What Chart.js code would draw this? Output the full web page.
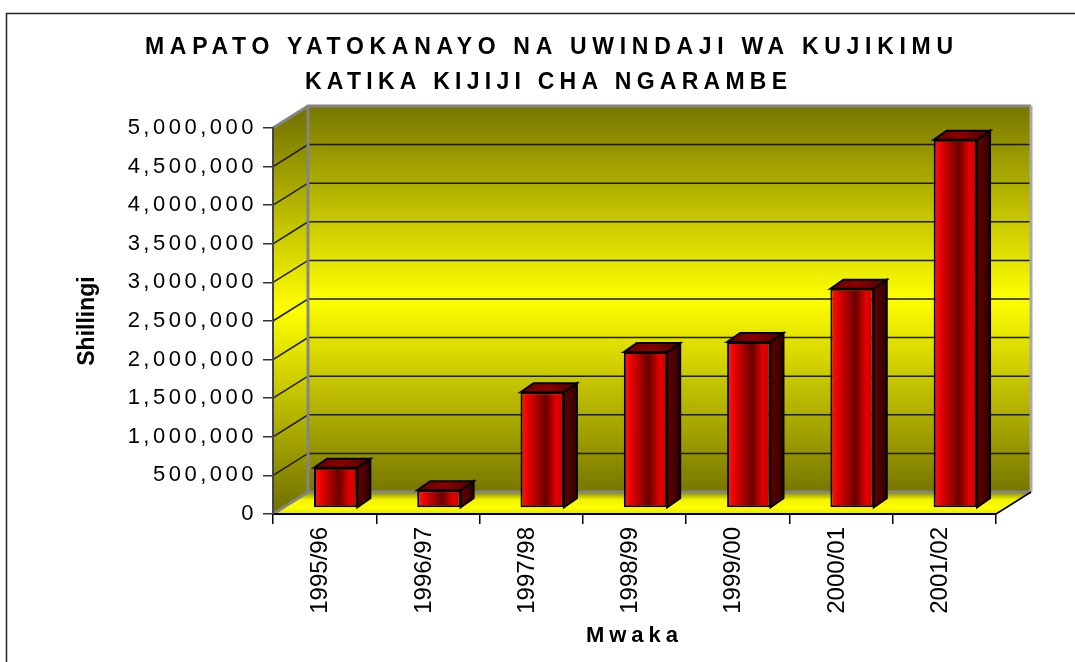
<!DOCTYPE html>
<html>
<head>
<meta charset="utf-8">
<title>Mapato</title>
<script src="https://cdn.jsdelivr.net/npm/chart.js@4.4.1/dist/chart.umd.min.js"></script>
<style>
  body { margin: 0; background: #fff; }
  canvas { display: block; }
</style>
</head>
<body>
<canvas id="mapatoChart" width="1075" height="662"></canvas>
<script>
const years = ["1995/96", "1996/97", "1997/98", "1998/99", "1999/00", "2000/01", "2001/02"];
const shillingi = [520000, 230000, 1500000, 2020000, 2150000, 2840000, 4770000];
const titleLines = ["MAPATO YATOKANAYO NA UWINDAJI WA KUJIKIMU", "KATIKA KIJIJI CHA NGARAMBE"];
const yMax = 5000000;
const yStep = 500000;

const FONT = '"Liberation Sans", Arial, Helvetica, sans-serif';

// depth of the walls, offset of the bars into the box, depth of the bars
const DX = 35, DY = -22;
const BOX = 11, BOY = -6;
const BDX = 13, BDY = -9;

// scales that draw their text letter-spaced like the old office chart
class SpacedLinear extends Chart.LinearScale {
  static id = "spacedLinear";
  drawLabels(area) {
    this.ctx.save();
    this.ctx.letterSpacing = "3.5px";
    super.drawLabels(area);
    this.ctx.restore();
  }
}
class SpacedCategory extends Chart.CategoryScale {
  static id = "spacedCategory";
  drawTitle() {
    this.ctx.save();
    this.ctx.letterSpacing = "5px";
    super.drawTitle();
    this.ctx.restore();
  }
}
Chart.register(SpacedLinear, SpacedCategory);

function wallGradient(ctx, top, bottom) {
  const g = ctx.createLinearGradient(0, top, 0, bottom);
  g.addColorStop(0, "#777600");
  g.addColorStop(0.5, "#ffff00");
  g.addColorStop(1, "#777600");
  return g;
}

const box3d = {
  id: "box3d",
  beforeDraw(chart) {
    const ctx = chart.ctx;
    const xs = chart.scales.x, ys = chart.scales.y;
    const L = xs.left, R = xs.right;
    const B = ys.getPixelForValue(0), T = ys.getPixelForValue(yMax);

    ctx.save();
    // frame
    ctx.strokeStyle = "#222";
    ctx.lineWidth = 1.5;
    ctx.beginPath();
    ctx.moveTo(6.5, 662);
    ctx.lineTo(6.5, 13.5);
    ctx.lineTo(1075, 13.5);
    ctx.stroke();

    // back wall
    ctx.fillStyle = wallGradient(ctx, T + DY, B + DY);
    ctx.fillRect(L + DX, T + DY, R - L, B - T);

    // side wall
    ctx.fillStyle = wallGradient(ctx, T + DY / 2, B + DY / 2);
    ctx.beginPath();
    ctx.moveTo(L, B);
    ctx.lineTo(L, T);
    ctx.lineTo(L + DX, T + DY);
    ctx.lineTo(L + DX, B + DY);
    ctx.closePath();
    ctx.fill();

    // floor
    const fg = ctx.createLinearGradient(0, B + DY, 0, B);
    fg.addColorStop(0, "#8a8a00");
    fg.addColorStop(0.35, "#f2f200");
    fg.addColorStop(0.7, "#ffff00");
    fg.addColorStop(1, "#e4e400");
    ctx.fillStyle = fg;
    ctx.beginPath();
    ctx.moveTo(L, B);
    ctx.lineTo(R, B);
    ctx.lineTo(R + DX, B + DY);
    ctx.lineTo(L + DX, B + DY);
    ctx.closePath();
    ctx.fill();

    // grid lines on the walls
    ctx.strokeStyle = "#1a1a00";
    ctx.lineWidth = 1.5;
    ys.ticks.forEach((t) => {
      if (t.value <= 0 || t.value >= yMax) return;
      const y = ys.getPixelForValue(t.value);
      ctx.beginPath();
      ctx.moveTo(L, y);
      ctx.lineTo(L + DX, y + DY);
      ctx.lineTo(R + DX, y + DY);
      ctx.stroke();
    });

    // wall edges
    ctx.strokeStyle = "#858585";
    ctx.lineWidth = 3;
    ctx.beginPath();
    ctx.moveTo(L, T);
    ctx.lineTo(L + DX, T + DY);
    ctx.lineTo(R + DX, T + DY);
    ctx.moveTo(L + DX, T + DY);
    ctx.lineTo(L + DX, B + DY);
    ctx.lineTo(R + DX, B + DY);
    ctx.moveTo(L, B);
    ctx.lineTo(L + DX, B + DY);
    ctx.stroke();
    ctx.strokeStyle = "#a8a8a8";
    ctx.beginPath();
    ctx.moveTo(R + DX, T + DY);
    ctx.lineTo(R + DX, B + DY);
    ctx.stroke();
    ctx.strokeStyle = "#000";
    ctx.lineWidth = 1.5;
    ctx.beginPath();
    ctx.moveTo(R, B);
    ctx.lineTo(R + DX, B + DY);
    ctx.stroke();
    ctx.restore();
  },
  beforeDatasetsDraw(chart) {
    chart.ctx.save();
    chart.ctx.translate(BOX, BOY);
  },
  afterDatasetsDraw(chart) {
    const ctx = chart.ctx;
    const meta = chart.getDatasetMeta(0);
    ctx.lineWidth = 2;
    ctx.strokeStyle = "#000";
    ctx.lineJoin = "miter";
    meta.data.forEach((bar) => {
      const { x, y, base, width } = bar.getProps(["x", "y", "base", "width"], true);
      const l = x - width / 2, r = x + width / 2;

      const sg = ctx.createLinearGradient(r, 0, r + BDX, 0);
      sg.addColorStop(0, "#640000");
      sg.addColorStop(0.5, "#4a0000");
      sg.addColorStop(1, "#2c0000");
      ctx.fillStyle = sg;
      ctx.beginPath();
      ctx.moveTo(r, y);
      ctx.lineTo(r + BDX, y + BDY);
      ctx.lineTo(r + BDX, base + BDY);
      ctx.lineTo(r, base);
      ctx.closePath();
      ctx.fill();
      ctx.stroke();

      const tg = ctx.createLinearGradient(l, 0, r + BDX, 0);
      tg.addColorStop(0, "#6a0000");
      tg.addColorStop(0.5, "#8c0000");
      tg.addColorStop(1, "#4a0000");
      ctx.fillStyle = tg;
      ctx.beginPath();
      ctx.moveTo(l, y);
      ctx.lineTo(l + BDX, y + BDY);
      ctx.lineTo(r + BDX, y + BDY);
      ctx.lineTo(r, y);
      ctx.closePath();
      ctx.fill();
      ctx.stroke();
    });
    ctx.restore();
  },
  afterDraw(chart) {
    const ctx = chart.ctx;
    const spots = [
      { left: 145, width: 808, y: 48 },
      { left: 305, width: 482, y: 83 },
    ];
    ctx.save();
    ctx.font = "bold 23px " + FONT;
    ctx.fillStyle = "#000";
    ctx.textAlign = "left";
    ctx.textBaseline = "middle";
    titleLines.forEach((line, i) => {
      ctx.letterSpacing = "0px";
      const w0 = ctx.measureText(line).width;
      const sp = (spots[i].width - w0) / (line.length - 1);
      ctx.letterSpacing = sp + "px";
      ctx.fillText(line, spots[i].left, spots[i].y);
    });
    ctx.restore();
  },
};

function barFace(c) {
  const xs = c.chart.scales.x;
  if (!xs || c.dataIndex === undefined) return "#d00000";
  const w = (xs.width / years.length) * 0.42;
  const cx = xs.getPixelForValue(c.dataIndex);
  if (!isFinite(w) || !isFinite(cx)) return "#d00000";
  const g = c.chart.ctx.createLinearGradient(cx - w / 2, 0, cx + w / 2, 0);
  g.addColorStop(0, "#ff1a1a");
  g.addColorStop(0.18, "#e60000");
  g.addColorStop(0.58, "#6a0000");
  g.addColorStop(0.82, "#e40000");
  g.addColorStop(1, "#c80000");
  return g;
}

const ctx1 = document.getElementById("mapatoChart");

new Chart(ctx1, {
  type: "bar",
  data: {
    labels: years,
    datasets: [
      {
        label: "Shillingi",
        data: shillingi,
        backgroundColor: barFace,
        borderColor: "#000",
        borderWidth: 2,
        borderSkipped: false,
        barPercentage: 0.42,
        categoryPercentage: 1,
        clip: false,
      },
    ],
  },
  options: {
    responsive: false,
    animation: false,
    layout: {
      padding: { top: 128, right: 79, bottom: 0, left: 0 },
    },
    plugins: {
      legend: { display: false },
      tooltip: { enabled: false },
    },
    scales: {
      x: {
        type: "spacedCategory",
        offset: true,
        afterFit: (scale) => {
          scale.height = 148;
        },
        grid: {
          offset: true,
          drawOnChartArea: false,
          tickLength: 10,
          color: "#000",
          lineWidth: 1.5,
        },
        border: { color: "#000", width: 2 },
        ticks: {
          autoSkip: false,
          minRotation: 90,
          maxRotation: 90,
          padding: 3,
          labelOffset: -4,
          color: "#000",
          font: { family: FONT, size: 24 },
        },
        title: {
          display: true,
          text: "Mwaka",
          color: "#000",
          padding: { top: 0, bottom: 13 },
          font: { family: FONT, size: 22, weight: "bold" },
        },
      },
      y: {
        type: "spacedLinear",
        min: 0,
        max: yMax,
        afterFit: (scale) => {
          scale.width = 273;
        },
        grid: {
          drawOnChartArea: false,
          tickLength: 10,
          color: "#333",
          lineWidth: 1.5,
        },
        border: { color: "#444", width: 2 },
        ticks: {
          stepSize: yStep,
          padding: 6,
          color: "#000",
          font: { family: FONT, size: 22 },
          callback: (value) => value.toLocaleString("en-US"),
        },
        title: {
          display: true,
          text: "Shillingi",
          color: "#000",
          padding: { top: 74, bottom: 0 },
          font: { family: FONT, size: 23, weight: "bold" },
        },
      },
    },
  },
  plugins: [box3d],
});
</script>
</body>
</html>
